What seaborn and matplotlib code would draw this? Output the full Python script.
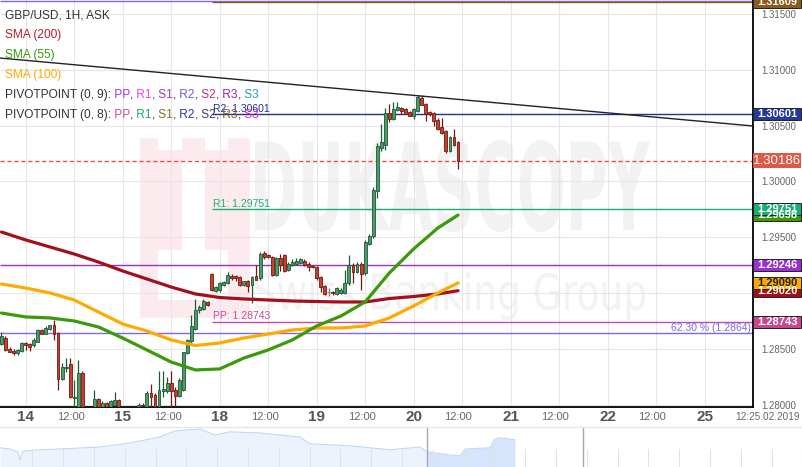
import numpy as np
import pandas as pd
import matplotlib
matplotlib.use("Agg")
import matplotlib.pyplot as plt
import matplotlib.transforms as mtransforms
from matplotlib.patches import Rectangle, PathPatch
from matplotlib.textpath import TextPath
from matplotlib.font_manager import FontProperties
import seaborn as sns

W, H = 803, 467

# hourly bars, hour 0 = 14 Feb 00:00 (weekend hours are dropped from the axis)
hours = list(range(-6, 108))
opens = [1.2854, 1.2860, 1.2850, 1.2848, 1.2846, 1.2848, 1.2855, 1.2854, 1.2853, 1.2856,
         1.2867, 1.2863, 1.2868, 1.2871, 1.2864, 1.2823, 1.2833, 1.2836, 1.2806, 1.2798,
         1.2828, 1.2793, 1.2789, 1.2793, 1.2805, 1.2796, 1.2801, 1.2796, 1.2800, 1.2804,
         1.2798, 1.2792, 1.2789, 1.2792, 1.2795, 1.2800, 1.2797, 1.2810, 1.2809, 1.2797,
         1.2812, 1.2812, 1.2819, 1.2813, 1.2808, 1.2813, 1.2846, 1.2857, 1.2868, 1.2885,
         1.2886, 1.2892, 1.2917, 1.2902, 1.2903, 1.2907, 1.2909, 1.2915, 1.2915, 1.2914,
         1.2907, 1.2911, 1.2907, 1.2915, 1.2913, 1.2936, 1.2934, 1.2932, 1.2916, 1.2931,
         1.2934, 1.2921, 1.2925, 1.2926, 1.2927, 1.2929, 1.2926, 1.2924, 1.2923, 1.2914,
         1.2906, 1.2901, 1.2901, 1.2899, 1.2900, 1.2900, 1.2909, 1.2925, 1.2919, 1.2926,
         1.2918, 1.2944, 1.2951, 1.2991, 1.3030, 1.3033, 1.3061, 1.3056, 1.3064, 1.3066,
         1.3065, 1.3062, 1.3059, 1.3063, 1.3075, 1.3069, 1.3062, 1.3061, 1.3055, 1.3049,
         1.3045, 1.3027, 1.3040, 1.3035]
highs = [1.2865, 1.2861, 1.2852, 1.2850, 1.2850, 1.2856, 1.2856, 1.2855, 1.2860, 1.2868,
         1.2868, 1.2870, 1.2871, 1.2876, 1.2865, 1.2837, 1.2842, 1.2842, 1.2822, 1.2840,
         1.2830, 1.2796, 1.2795, 1.2813, 1.2806, 1.2803, 1.2802, 1.2804, 1.2811, 1.2805,
         1.2799, 1.2796, 1.2794, 1.2797, 1.2801, 1.2801, 1.2812, 1.2818, 1.2810, 1.2830,
         1.2830, 1.2825, 1.2830, 1.2816, 1.2824, 1.2847, 1.2859, 1.2880, 1.2895, 1.2889,
         1.2895, 1.2893, 1.2918, 1.2906, 1.2910, 1.2911, 1.2919, 1.2917, 1.2916, 1.2915,
         1.2911, 1.2912, 1.2915, 1.2925, 1.2937, 1.2938, 1.2935, 1.2933, 1.2932, 1.2935,
         1.2935, 1.2928, 1.2930, 1.2931, 1.2931, 1.2930, 1.2928, 1.2925, 1.2924, 1.2915,
         1.2907, 1.2904, 1.2902, 1.2905, 1.2904, 1.2921, 1.2934, 1.2927, 1.2928, 1.2928,
         1.2947, 1.2953, 1.2995, 1.3034, 1.3051, 1.3066, 1.3069, 1.3071, 1.3071, 1.3067,
         1.3066, 1.3063, 1.3066, 1.3077, 1.3077, 1.3070, 1.3063, 1.3062, 1.3057, 1.3057,
         1.3046, 1.3041, 1.3047, 1.3036]
lows = [1.2853, 1.2848, 1.2847, 1.2844, 1.2844, 1.2847, 1.2849, 1.2848, 1.2852, 1.2856,
        1.2863, 1.2863, 1.2867, 1.2858, 1.2813, 1.2822, 1.2829, 1.2806, 1.2798, 1.2797,
        1.2790, 1.2786, 1.2785, 1.2790, 1.2792, 1.2794, 1.2793, 1.2794, 1.2799, 1.2792,
        1.2790, 1.2786, 1.2785, 1.2790, 1.2793, 1.2797, 1.2796, 1.2797, 1.2793, 1.2795,
        1.2807, 1.2810, 1.2797, 1.2797, 1.2807, 1.2812, 1.2845, 1.2855, 1.2867, 1.2882,
        1.2885, 1.2888, 1.2902, 1.2901, 1.2901, 1.2906, 1.2908, 1.2912, 1.2911, 1.2906,
        1.2906, 1.2901, 1.2891, 1.2912, 1.2912, 1.2930, 1.2931, 1.2915, 1.2915, 1.2920,
        1.2919, 1.2920, 1.2924, 1.2925, 1.2926, 1.2924, 1.2920, 1.2922, 1.2912, 1.2901,
        1.2898, 1.2897, 1.2898, 1.2898, 1.2899, 1.2899, 1.2907, 1.2909, 1.2918, 1.2903,
        1.2916, 1.2943, 1.2949, 1.2985, 1.3027, 1.3028, 1.3053, 1.3055, 1.3063, 1.3060,
        1.3060, 1.3059, 1.3056, 1.3062, 1.3068, 1.3054, 1.3059, 1.3050, 1.3046, 1.3042,
        1.3025, 1.3026, 1.3032, 1.3011]
closes = [1.2861, 1.2849, 1.2847, 1.2846, 1.2849, 1.2855, 1.2853, 1.2852, 1.2858, 1.2867,
          1.2863, 1.2869, 1.2871, 1.2863, 1.2823, 1.2834, 1.2834, 1.2807, 1.2807, 1.2828,
          1.2793, 1.2789, 1.2792, 1.2805, 1.2795, 1.2801, 1.2796, 1.2803, 1.2804, 1.2796,
          1.2792, 1.2789, 1.2792, 1.2795, 1.2800, 1.2799, 1.2810, 1.2807, 1.2797, 1.2813,
          1.2814, 1.2819, 1.2812, 1.2808, 1.2822, 1.2847, 1.2858, 1.2870, 1.2885, 1.2887,
          1.2893, 1.2889, 1.2903, 1.2905, 1.2909, 1.2910, 1.2916, 1.2913, 1.2913, 1.2907,
          1.2911, 1.2906, 1.2914, 1.2912, 1.2935, 1.2932, 1.2932, 1.2916, 1.2931, 1.2925,
          1.2920, 1.2926, 1.2928, 1.2929, 1.2930, 1.2925, 1.2923, 1.2923, 1.2913, 1.2905,
          1.2899, 1.2901, 1.2900, 1.2904, 1.2903, 1.2909, 1.2925, 1.2919, 1.2926, 1.2917,
          1.2946, 1.2951, 1.2992, 1.3032, 1.3035, 1.3061, 1.3056, 1.3065, 1.3067, 1.3063,
          1.3060, 1.3059, 1.3065, 1.3076, 1.3068, 1.3060, 1.3060, 1.3054, 1.3047, 1.3043,
          1.3027, 1.3040, 1.3033, 1.30186]

# moving averages every 6 bars
sma_hours = [-6, 0, 6, 12, 18, 24, 30, 36, 42, 48, 54, 60, 66, 72, 78, 84, 90, 96, 102, 107]
sma200 = [1.29546, 1.29475, 1.29412, 1.29349, 1.29277, 1.29197, 1.29125, 1.29053, 1.28991, 1.28959,
          1.28946, 1.28937, 1.28928, 1.28923, 1.28919, 1.28919, 1.28950, 1.28968, 1.28991, 1.29020]
sma100 = [1.29080, 1.29044, 1.29000, 1.28937, 1.28829, 1.28722, 1.28659, 1.28579, 1.28529, 1.28552,
          1.28596, 1.28632, 1.28668, 1.28686, 1.28686, 1.28704, 1.28776, 1.28883, 1.29000, 1.29090]
sma55 = [1.28820, 1.28785, 1.28776, 1.28749, 1.28695, 1.28596, 1.28489, 1.28381, 1.28310, 1.28319,
         1.28417, 1.28489, 1.28579, 1.28704, 1.28793, 1.28919, 1.29179, 1.29394, 1.29582, 1.29698]

trend_hours = [-6.36, 180]
trend_prices = [1.31105, 1.30496]

# levels
pp = 1.28743
r1 = 1.29751
r2 = 1.30601
r3 = 1.31609
piv9_level = 1.29246
piv9_top = 1.31620
fib_623 = 1.2864
last_close = closes[-1]

tick_hours = [0, 12, 24, 36, 48, 60, 72, 84, 96, 108, 120, 132, 144, 156, 168]
tick_labels = ["14", "12:00", "15", "12:00", "18", "12:00", "19", "12:00", "20", "12:00",
               "21", "12:00", "22", "12:00", "25"]
price_ticks = [1.280, 1.285, 1.290, 1.295, 1.300, 1.305, 1.310, 1.315]

# navigator strip (days, relative level)
nav_day = [0, 0.32, 0.58, 0.65, 0.75, 1.30, 1.95, 3.25, 4.22, 5.19, 5.68, 6.49, 6.98, 7.47,
           8.44, 9.74, 10.06, 11.36, 12.66, 13.64, 13.86, 14.61, 14.94, 15.10, 15.91, 16.07,
           16.23, 16.72]
nav_level = [0.48, 0.45, 0.38, 0.18, 0.40, 0.43, 0.45, 0.50, 0.60, 0.75, 0.90, 0.95, 0.80, 0.88,
             0.85, 0.75, 0.58, 0.53, 0.43, 0.50, 0.38, 0.30, 0.28, 0.45, 0.48, 0.70, 0.73, 0.68]

sns.set_style("white")
plt.rcParams["font.family"] = ["Liberation Sans", "DejaVu Sans"]

fig = plt.figure(figsize=(W / 100, H / 100), dpi=100)
ax = fig.add_axes([0, 60 / H, 753 / W, 407 / H])
ax.set_zorder(1)
X0, X1 = -6.36, 180
ax.set_xlim(X0, X1)
ax.set_ylim(1.27978, 1.31625)
ax.set_facecolor("none")
fig.patch.set_facecolor("white")

# grid
for g in range(0, 181, 12):
    ax.axvline(g, color="#e6e6e6", lw=0.8, zorder=0)
for p in price_ticks:
    ax.axhline(p, color="#e6e6e6", lw=0.8, zorder=0)

# watermark (figure level, drawn below the chart axes)
def fig_rect(box, color):
    x0, y0, x1, y1 = box
    fig.add_artist(Rectangle((x0 / W, 1 - y1 / H), (x1 - x0) / W, (y1 - y0) / H,
                             transform=fig.transFigure, color=color, lw=0, zorder=0.1))

fig_rect((140, 138, 250, 318), "#fcebee")
for bx in [(158, 138, 182, 150), (205, 138, 228, 150), (182, 160, 205, 250), (158, 250, 228, 300)]:
    fig_rect(bx, "white")


def path_text(s, box, color, weight):
    tp = TextPath((0, 0), s, size=1, prop=FontProperties(family="DejaVu Sans", weight=weight))
    bb = tp.get_extents()
    x0, y0, x1, y1 = box
    tr = (mtransforms.Affine2D().translate(-bb.x0, -bb.y0)
          .scale((x1 - x0) / bb.width, (y1 - y0) / bb.height)
          .translate(x0, H - y1).scale(1 / 100) + fig.dpi_scale_trans)
    fig.add_artist(PathPatch(tp, transform=tr, color=color, lw=0, zorder=0.2))


path_text("DUKASCOPY", (255, 140, 650, 232), "#f2f2f2", "bold")
path_text("Swiss Banking Group", (255, 272, 645, 320), "#f2f2f2", "normal")

# candles
df = pd.DataFrame({"hour": hours, "open": opens, "high": highs, "low": lows, "close": closes})
df["color"] = np.where(df.close > df.open, "#4e9a6b", np.where(df.close < df.open, "#c8412f", "#999999"))
df["edge"] = np.where(df.close > df.open, "#1d5a33", np.where(df.close < df.open, "#6e1a12", "#777777"))
body_lo = df[["open", "close"]].min(axis=1)
body_h = (df.close - df.open).abs().clip(lower=0.00002)
ax.vlines(df.hour, df.low, df.high, colors=df.edge, lw=0.9, zorder=3)
ax.bar(df.hour, body_h, bottom=body_lo, width=0.72, color=df.color, edgecolor=df.edge,
       lw=0.6, zorder=4)

# level lines
pivot_start = 46.1
ax.hlines(piv9_top, X0, X1, color="#7a6ae6", lw=1.0, zorder=2)
ax.hlines(r3, pivot_start, X1, color="#8b5a1e", lw=1.0, zorder=2)
ax.hlines(r2, pivot_start, X1, color="#1f2f9c", lw=1.0, zorder=2)
ax.hlines(last_close, X0, X1, color="#e5533d", lw=1.0, ls=(0, (3, 2)), zorder=2)
ax.hlines(r1, pivot_start, X1, color="#1aae74", lw=1.0, zorder=2)
ax.hlines(piv9_level, X0, X1, color="#9a2fc4", lw=1.0, zorder=2)
ax.hlines(pp, pivot_start, X1, color="#c84b9c", lw=1.0, zorder=2)
ax.hlines(fib_623, X0, X1, color="#7b68ee", lw=1.0, zorder=2)

ax.text(pivot_start + 0.3, r2 + 0.00005, f"R2: {r2:.5f}", color="#1f2f9c", fontsize=7.5, va="bottom")
ax.text(pivot_start + 0.3, r1 + 0.00005, f"R1: {r1:.5f}", color="#1aae74", fontsize=7.5, va="bottom")
ax.text(pivot_start + 0.3, pp + 0.00005, f"PP: {pp:.5f}", color="#c84b9c", fontsize=7.5, va="bottom")
ax.text(X1 - 0.5, fib_623 + 0.00005, f"62.30 % ({fib_623:.4f})", color="#7b68ee", fontsize=7.5,
        va="bottom", ha="right")

# moving averages + trend line
sns.lineplot(x=sma_hours, y=sma200, color="#a3101c", lw=2.3, ax=ax, zorder=5)
sns.lineplot(x=sma_hours, y=sma100, color="#ffaa00", lw=2.3, ax=ax, zorder=5)
sns.lineplot(x=sma_hours, y=sma55, color="#3a9a0a", lw=2.3, ax=ax, zorder=5)
sns.lineplot(x=trend_hours, y=trend_prices, color="#222222", lw=1.0, ax=ax, zorder=5)

# axes styling
for s in ["top", "left"]:
    ax.spines[s].set_visible(False)
for s in ["right", "bottom"]:
    ax.spines[s].set_color("black")
    ax.spines[s].set_linewidth(1.3)
ax.yaxis.tick_right()
ax.set_yticks(price_ticks)
ax.set_yticklabels([f"{p:.5f}" for p in price_ticks])
ax.tick_params(axis="y", length=0, pad=6, labelsize=7, labelcolor="#666666")
ax.set_xticks([])
ax.set_xlabel("")
ax.set_ylabel("")

xt = mtransforms.blended_transform_factory(ax.transData, ax.transAxes)
for h, lab in zip(tick_hours, tick_labels):
    if lab == "12:00":
        ax.text(h - 0.9, -10 / 407, lab, transform=xt, ha="center", va="center",
                fontsize=8, color="#666666", clip_on=False)
    else:
        ax.text(h, -10 / 407, lab, transform=xt, ha="center", va="center",
                fontsize=11, fontweight="bold", color="#555555", clip_on=False)
ax.text(183.6, -10 / 407, "12:25.02.2019", transform=xt, ha="center", va="center",
        fontsize=7.2, color="#666666", clip_on=False)

# price tags on the right axis
yt = mtransforms.blended_transform_factory(ax.transAxes, ax.transData)
tag_w = 48 / 753
tags = [
    (r3, "#8b5a1e", "white"),
    (r2, "#233a9a", "white"),
    (sma55[-1], "#3a9a0a", "white"),
    (r1, "#17ad76", "white"),
    (piv9_level, "#9b30d0", "white"),
    (sma200[-1], "#a00e1a", "white"),
    (sma100[-1], "#ffaa00", "#222222"),
    (pp, "#c8478f", "white"),
]
for price, fc, tc in tags:
    hh = 12 / 11160
    ax.add_patch(Rectangle((1.0, price - hh / 2), tag_w, hh, transform=yt, facecolor=fc,
                           edgecolor="#222222", lw=0.7, clip_on=False, zorder=6))
    ax.text(1.0 + tag_w / 2, price, f"{price:.5f}", transform=yt, ha="center", va="center",
            color=tc, fontsize=8, fontweight="bold", clip_on=False, zorder=7)
hh = 15 / 11160
ax.add_patch(Rectangle((1.0, last_close - hh / 2), tag_w, hh, transform=yt, facecolor="#dd5a47",
                       edgecolor="none", clip_on=False, zorder=6))
ax.text(1.0 + tag_w / 2, last_close, f"{last_close:.5f}", transform=yt, ha="center", va="center",
        color="white", fontsize=9.5, clip_on=False, zorder=7)

# legend text, top left
fig.canvas.draw()
renderer = fig.canvas.get_renderer()
def colored_line(y_px, parts, size=8.6):
    x = 5
    for txt, col in parts:
        t = fig.text(x / W, 1 - y_px / H, txt, color=col, fontsize=size, va="center", ha="left",
                     zorder=5)
        x += t.get_window_extent(renderer).width

gray = "#333333"
colored_line(15, [("GBP/USD, 1H, ASK", gray)])
colored_line(35, [("SMA (200)", "#b4202a")])
colored_line(55, [("SMA (55)", "#3a9a0a")])
colored_line(75, [("SMA (100)", "#ffaa00")])
cols9 = ["#b030e0", "#ee44e8", "#b030d0", "#6a5ad8", "#c03070", "#a020b0", "#2a9ab8"]
cols8 = ["#d04a98", "#18a878", "#8b6a2a", "#2a3aa0", "#4a3a5a", "#8b5a1e", "#c030e0"]
names = ["PP", "R1", "S1", "R2", "S2", "R3", "S3"]
for y_px, lab, cols in [(95, "PIVOTPOINT (0, 9):", cols9), (115, "PIVOTPOINT (0, 8):", cols8)]:
    parts = [(lab, gray)]
    for i, (n, c) in enumerate(zip(names, cols)):
        parts.append((" " + n, c))
        if i < len(names) - 1:
            parts.append((",", gray))
    colored_line(y_px, parts)

# navigator strip
nav = fig.add_axes([0, 0, 1, 40 / H])
nav.set_xlim(0, W / 30.8)
nav.set_ylim(0, 1)
nav.axis("off")
nd = np.array(nav_day)
nl = np.array(nav_level)
nav.fill_between(nd, 0, nl, where=nd <= 13.86, color="#edf3fd", lw=0, interpolate=True)
nav.fill_between(nd, 0, nl, where=nd >= 13.86, color="#d6e5fb", lw=0, interpolate=True)
sns.lineplot(x=nav_day, y=nav_level, color="#c2d7f5", lw=0.8, ax=nav)
nav.set_xlabel("")
nav.set_ylabel("")
for k in range(26):
    nav.axvline(1.05 + k, 0, 0.45, color="#e2e2e2", lw=0.8)
nav.axvline(13.86, color="#a8a8a8", lw=1.0)
nav.axvline(18.93, color="#a8a8a8", lw=1.0)
nav.axhline(1, color="#e6e6e6", lw=1.0, clip_on=False)

fig.savefig("out.png", dpi=100)
